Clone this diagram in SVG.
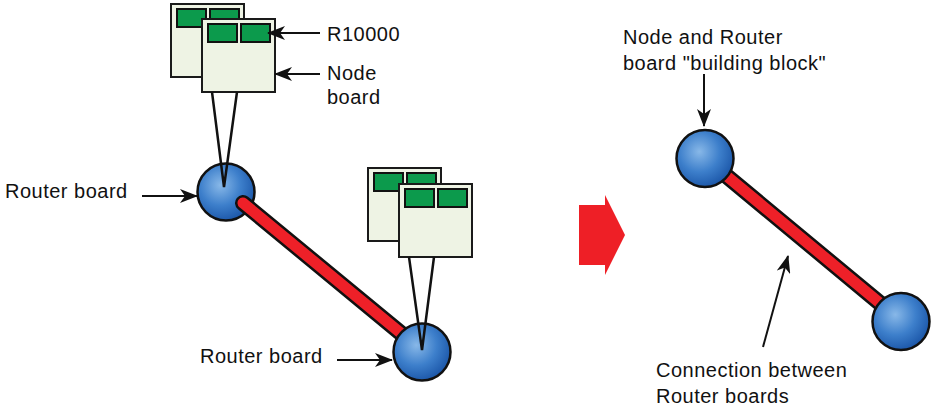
<svg xmlns="http://www.w3.org/2000/svg" width="931" height="406" viewBox="0 0 931 406">
  <style>
    .lbl { font-family: "Liberation Sans", Arial, sans-serif; font-size: 20px; letter-spacing: 0.5px; fill: #111; }
    .board { fill: #eef3e4; stroke: #1a1a1a; stroke-width: 2; }
    .chip { fill: #0c9a4c; stroke: #111; stroke-width: 2; }
    .leg { stroke: #111; stroke-width: 2.5; fill: none; }
    .sphere { fill: url(#ball); stroke: #111; stroke-width: 2.5; }
    .barOut { stroke: #111; stroke-width: 16; stroke-linecap: round; }
    .barIn { stroke: #ee2028; stroke-width: 11; stroke-linecap: round; }
    .ptr { stroke: #111; stroke-width: 2; fill: none; marker-end: url(#head); }
  </style>
  <defs>
    <radialGradient id="ball" cx="0.4" cy="0.38" r="0.65">
      <stop offset="0" stop-color="#88b8e8"/>
      <stop offset="0.55" stop-color="#3d7fcb"/>
      <stop offset="1" stop-color="#1b56a8"/>
    </radialGradient>
    <marker id="head" viewBox="0 0 18 14" refX="17" refY="7" markerWidth="18" markerHeight="14" markerUnits="userSpaceOnUse" orient="auto">
      <path d="M0,0 L18,7 L0,14 L5,7 Z" fill="#111"/>
    </marker>
    <g id="card">
      <rect class="board" x="0" y="0" width="73" height="73"/>
      <rect class="chip" x="6" y="5" width="29" height="18"/>
      <rect class="chip" x="39" y="5" width="29" height="18"/>
    </g>
  </defs>

  <!-- left: first router with its node boards -->
  <g id="router-a">
    <circle class="sphere" cx="226" cy="192" r="28.5"/>
  </g>
  <g id="node-boards-a">
    <use href="#card" x="171" y="4"/>
    <use href="#card" x="202" y="19"/>
    <polyline class="leg" points="212,92 224,187 237,92"/>
  </g>

  <!-- links between routers -->
  <g id="connectors">
    <line class="barOut" x1="243" y1="203" x2="420" y2="349"/>
    <line class="barIn" x1="243" y1="203" x2="420" y2="349"/>
    <line class="barOut" x1="723" y1="173" x2="899" y2="319"/>
    <line class="barIn" x1="723" y1="173" x2="899" y2="319"/>
  </g>

  <!-- left: second router with its node boards -->
  <g id="router-b">
    <circle class="sphere" cx="422" cy="352" r="28.5"/>
  </g>
  <g id="node-boards-b">
    <use href="#card" x="368" y="168"/>
    <use href="#card" x="399" y="184"/>
    <polyline class="leg" points="409,257 422,350 434,257"/>
  </g>

  <!-- left: callouts -->
  <g id="label-r10000">
    <line class="ptr" x1="320" y1="33" x2="268" y2="33"/>
    <text class="lbl" x="327" y="41">R10000</text>
  </g>
  <g id="label-node-board">
    <line class="ptr" x1="320" y1="74" x2="275" y2="74"/>
    <text class="lbl" x="327" y="80">Node</text>
    <text class="lbl" x="327" y="104">board</text>
  </g>
  <g id="label-router-a">
    <text class="lbl" x="5" y="198">Router board</text>
    <line class="ptr" x1="142" y1="196" x2="197" y2="196"/>
  </g>
  <g id="label-router-b">
    <text class="lbl" x="200" y="363">Router board</text>
    <line class="ptr" x1="337" y1="360" x2="392" y2="360"/>
  </g>

  <!-- transition arrow -->
  <g id="transition">
    <polygon points="579,205 605,205 605,195 625,235 605,275 605,265 579,265" fill="#ee1f26"/>
  </g>

  <!-- right: building block -->
  <g id="block-top">
    <circle class="sphere" cx="705" cy="158.5" r="28.5"/>
  </g>
  <g id="block-bottom">
    <circle class="sphere" cx="901" cy="321.5" r="28.5"/>
  </g>
  <g id="label-block">
    <text class="lbl" x="623" y="44">Node and Router</text>
    <text class="lbl" x="623" y="70">board "building block"</text>
    <line class="ptr" x1="704" y1="74" x2="704" y2="126"/>
  </g>
  <g id="label-connection">
    <line class="ptr" x1="763" y1="347" x2="788" y2="256"/>
    <text class="lbl" x="656" y="377">Connection between</text>
    <text class="lbl" x="656" y="403">Router boards</text>
  </g>
</svg>
